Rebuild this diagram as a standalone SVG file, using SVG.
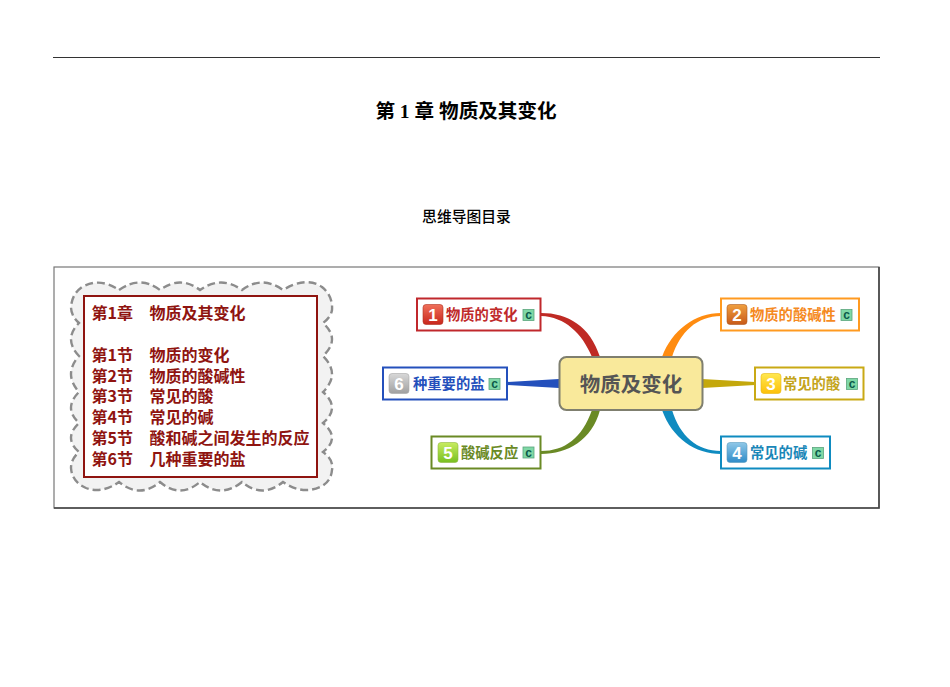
<svg xmlns="http://www.w3.org/2000/svg" width="950" height="687" viewBox="0 0 950 687">
<style>
text{font-family:"Noto Sans CJK SC","Noto Sans",sans-serif}
.h{font-family:"Liberation Serif","Noto Sans CJK SC",serif;font-weight:700;font-size:19.600px;fill:#000}
.sub{font-size:14.800px;fill:#000;font-weight:500}
.red{font-size:16px;font-weight:700;fill:#8f1410}
.lab{font-size:14.300px;font-weight:700}
.num{font-family:"Liberation Sans",sans-serif;font-size:17px;font-weight:700;fill:#fff;text-anchor:middle}
.box{fill:#fff;stroke-width:2}
.ic{stroke-width:.6}
.cbg{fill:#7fd8a6;stroke:#5ba67d;stroke-width:.8}
.c{font-family:"Liberation Sans",sans-serif;font-size:12px;font-weight:700;fill:#0b5a4a;text-anchor:middle}
</style>
<defs>
<linearGradient id="g1" x1="0" y1="0" x2="0" y2="1"><stop offset="0" stop-color="#f0705a"/><stop offset="1" stop-color="#c8261c"/></linearGradient>
<linearGradient id="g2" x1="0" y1="0" x2="0" y2="1"><stop offset="0" stop-color="#f0a040"/><stop offset="1" stop-color="#c85a18"/></linearGradient>
<linearGradient id="g3" x1="0" y1="0" x2="0" y2="1"><stop offset="0" stop-color="#ffe850"/><stop offset="1" stop-color="#fdc008"/></linearGradient>
<linearGradient id="g4" x1="0" y1="0" x2="0" y2="1"><stop offset="0" stop-color="#90c8e8"/><stop offset="1" stop-color="#2f8cc8"/></linearGradient>
<linearGradient id="g5" x1="0" y1="0" x2="0" y2="1"><stop offset="0" stop-color="#c8ec60"/><stop offset="1" stop-color="#78c020"/></linearGradient>
<linearGradient id="g6" x1="0" y1="0" x2="0" y2="1"><stop offset="0" stop-color="#d8d8d8"/><stop offset="1" stop-color="#a0a0a0"/></linearGradient>
</defs>
<rect width="950" height="687" fill="#fff"/>
<line x1="53" y1="57.500" x2="880" y2="57.500" stroke="#333" stroke-width="1"/>
<text class="h" x="466" y="117.500" text-anchor="middle">第 1 章 物质及其变化</text>
<text class="sub" x="466.500" y="222" text-anchor="middle">思维导图目录</text>
<g id="frame">
<rect x="54" y="267" width="825" height="241" fill="#fff" stroke="#777" stroke-width="1.2"/>
<path d="M54,508H879V267" fill="none" stroke="#444" stroke-width="1.6"/>
</g>
<g id="toc">
<path d="M119,290 Q140,275 160,290 Q180,275 200,290 Q221,275 242,290 Q262,275 283,290 Q306,276 322,287 Q333,296 332,310 Q331,317 323,323 Q341,339 323,356 Q341,374 323,392 Q341,408 323,423 Q341,438 323,452 Q334,460 332,470 Q331,482 320,487 Q302,495 283,482 Q262,499 242,482 Q221,499 200,482 Q180,499 160,482 Q140,499 119,482 Q102,494 86,488 Q72,482 71,468 Q71,459 79,452 Q63,438 79,423 Q63,408 79,392 Q63,374 79,356 Q63,339 79,323 Q71,316 71,307 Q72,294 82,287 Q100,277 119,290 Z" fill="#f2f2f2" stroke="#8c8c8c" stroke-width="2.4" stroke-dasharray="8 4"/>
<rect x="84" y="296" width="233" height="181" fill="#fff" stroke="#8f1410" stroke-width="2"/>
<text class="red" x="91.500" y="319">第1章</text><text class="red" x="149.500" y="319">物质及其变化</text>
<text class="red" x="91.500" y="361">第1节</text><text class="red" x="149.500" y="361">物质的变化</text>
<text class="red" x="91.500" y="382">第2节</text><text class="red" x="149.500" y="382">物质的酸碱性</text>
<text class="red" x="91.500" y="402">第3节</text><text class="red" x="149.500" y="402">常见的酸</text>
<text class="red" x="91.500" y="423">第4节</text><text class="red" x="149.500" y="423">常见的碱</text>
<text class="red" x="91.500" y="444">第5节</text><text class="red" x="149.500" y="444">酸和碱之间发生的反应</text>
<text class="red" x="91.500" y="465">第6节</text><text class="red" x="149.500" y="465">几种重要的盐</text>
</g>
<g id="connectors">
<path d="M541,313 C568,313 590,326 600,357 L592,357 C582,333 565,317 541,316 Z" fill="#bf2a24"/>
<path d="M507,382 L559,379 L559,388 L507,385 Z" fill="#2450bc"/>
<path d="M541,451 C565,451 582,438 592,410 L600,410 C592,440 568,454 541,454 Z" fill="#6a8a25"/>
<path d="M721,313 C695,313 672,330 662,357 L672,357 C680,332 697,316 721,316 Z" fill="#ff8c10"/>
<path d="M755,382 L702,379 L702,388 L755,385 Z" fill="#c4a80c"/>
<path d="M721,451 C697,451 680,436 672,410 L662,410 C672,438 695,454 721,454 Z" fill="#0f8bc0"/>
</g>
<g id="center">
<rect x="559.500" y="357" width="143" height="53" rx="7" fill="#f9e99b" stroke="#7f7f6f" stroke-width="2"/>
<text x="631" y="392" text-anchor="middle" font-size="20.500" font-weight="700" fill="#555">物质及变化</text>
</g>
<g id="n1">
<rect class="box" x="417" y="298.500" width="123.500" height="32" stroke="#c0282c"/>
<rect class="ic" x="423" y="304.500" width="20" height="20" rx="3" fill="url(#g1)" stroke="#b03020"/>
<text class="num" x="433" y="321">1</text>
<text class="lab" x="446" y="320" fill="#bf2a2a">物质的变化</text>
<rect class="cbg" x="523" y="309.500" width="11" height="11"/><text class="c" x="528.500" y="319">c</text>
</g>
<g id="n2">
<rect class="box" x="721" y="298.500" width="138" height="32" stroke="#ff9a20"/>
<rect class="ic" x="727" y="304.500" width="20" height="20" rx="3" fill="url(#g2)" stroke="#b05a20"/>
<text class="num" x="737" y="321">2</text>
<text class="lab" x="750" y="320" fill="#f58a1f">物质的酸碱性</text>
<rect class="cbg" x="841" y="309.500" width="11" height="11"/><text class="c" x="846.500" y="319">c</text>
</g>
<g id="n3">
<rect class="box" x="755" y="367.500" width="108.500" height="32" stroke="#c9a915"/>
<rect class="ic" x="761" y="373.500" width="20" height="20" rx="3" fill="url(#g3)" stroke="#e8b810"/>
<text class="num" x="771" y="390">3</text>
<text class="lab" x="783" y="389" fill="#c4a41a">常见的酸</text>
<rect class="cbg" x="846.500" y="378.500" width="11" height="11"/><text class="c" x="852" y="388">c</text>
</g>
<g id="n4">
<rect class="box" x="721" y="436.500" width="109" height="32" stroke="#0f8bc0"/>
<rect class="ic" x="727" y="442.500" width="20" height="20" rx="3" fill="url(#g4)" stroke="#5a9cc0"/>
<text class="num" x="737" y="459">4</text>
<text class="lab" x="750" y="458" fill="#1a87b8">常见的碱</text>
<rect class="cbg" x="812.500" y="447.500" width="11" height="11"/><text class="c" x="818" y="457">c</text>
</g>
<g id="n5">
<rect class="box" x="431.500" y="436.500" width="109" height="32" stroke="#6a8a25"/>
<rect class="ic" x="438" y="442.500" width="20" height="20" rx="3" fill="url(#g5)" stroke="#90b840"/>
<text class="num" x="448" y="459">5</text>
<text class="lab" x="461" y="458" fill="#6a8a25">酸碱反应</text>
<rect class="cbg" x="523" y="447" width="11" height="11"/><text class="c" x="528.500" y="456.500">c</text>
</g>
<g id="n6">
<rect class="box" x="383" y="367.500" width="124" height="32" stroke="#2450bc"/>
<rect class="ic" x="389" y="373.500" width="20" height="20" rx="3" fill="url(#g6)" stroke="#a8a8a8"/>
<text class="num" x="399" y="390">6</text>
<text class="lab" x="413" y="389" fill="#2450bc">种重要的盐</text>
<rect class="cbg" x="489" y="378.500" width="11" height="11"/><text class="c" x="494.500" y="388">c</text>
</g>
</svg>
